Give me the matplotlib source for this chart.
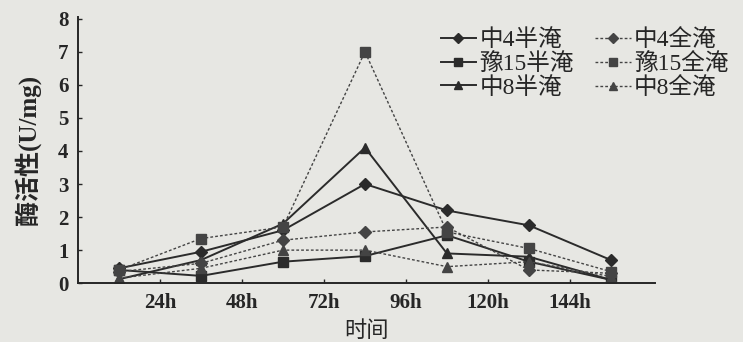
import matplotlib.pyplot as plt
import numpy as np

# sampling times (h) and tick labels
hours = [12, 36, 60, 84, 108, 132, 156]
tick_pos = [24, 48, 72, 96, 120, 144]
tick_labels = ['24h', '48h', '72h', '96h', '120h', '144h']

# enzyme activity (U/mg)
z4_half = [0.45, 0.95, 1.6, 3.0, 2.2, 1.75, 0.7]
y15_half = [0.4, 0.22, 0.65, 0.82, 1.45, 0.65, 0.1]
z8_half = [0.12, 0.7, 1.8, 4.1, 0.9, 0.8, 0.1]
z4_full = [0.35, 0.6, 1.3, 1.55, 1.7, 0.4, 0.3]
y15_full = [0.4, 1.35, 1.7, 7.0, 1.55, 1.05, 0.35]
z8_full = [0.15, 0.45, 1.0, 1.0, 0.5, 0.65, 0.2]

names = ['中4半淹', '豫15半淹', '中8半淹', '中4全淹', '豫15全淹', '中8全淹']

plt.rcParams['font.family'] = ['Liberation Serif', 'Noto Sans CJK SC']
plt.rcParams['axes.unicode_minus'] = False

bg = '#e7e7e3'
ink = '#262626'
fig = plt.figure(figsize=(7.43, 3.42), dpi=100, facecolor=bg)
ax = fig.add_axes([0.105, 0.172, 0.777, 0.778], facecolor=bg)

solid = dict(color='#2b2b2b', lw=1.4, ls='-')
dash = dict(color='#444444', lw=1.0, ls=(0, (2, 1.5)))

# half-flooded (solid) first so they fill the left legend column
ax.plot(hours, z4_half, marker='D', ms=6, label=names[0], **solid)
ax.plot(hours, y15_half, marker='s', ms=7, label=names[1], **solid)
ax.plot(hours, z8_half, marker='^', ms=7, label=names[2], **solid)
ax.plot(hours, z4_full, marker='D', ms=6, label=names[3], **dash)
ax.plot(hours, y15_full, marker='s', ms=7, label=names[4], **dash)
ax.plot(hours, z8_full, marker='^', ms=7, label=names[5], **dash)

ax.set_xlim(0, 169)
ax.set_ylim(0, 8.05)
ax.set_xticks(tick_pos)
ax.set_xticklabels(tick_labels)
ax.set_yticks(range(0, 9))
ax.tick_params(direction='in', length=3, width=1, colors=ink,
               labelsize=15, pad=7)
for lab in ax.get_xticklabels() + ax.get_yticklabels():
    lab.set_fontweight('bold')
for s in ['top', 'right']:
    ax.spines[s].set_visible(False)
for s in ['left', 'bottom']:
    ax.spines[s].set_color(ink)
    ax.spines[s].set_linewidth(1.4)

ax.set_ylabel('酶活性(U/mg)', fontsize=18, color=ink, fontweight='bold',
              labelpad=12)
ax.set_xlabel('时间', fontsize=16, color=ink, labelpad=6)

leg = ax.legend(ncol=2, loc='upper left', bbox_to_anchor=(0.628, 0.955),
                frameon=False, fontsize=17, handlelength=1.5,
                handletextpad=0.15, columnspacing=0.9, labelspacing=0.08,
                borderaxespad=0, borderpad=0, markerscale=0.9)
for t in leg.get_texts():
    t.set_color(ink)

fig.savefig('out.png', dpi=100, facecolor=bg)
